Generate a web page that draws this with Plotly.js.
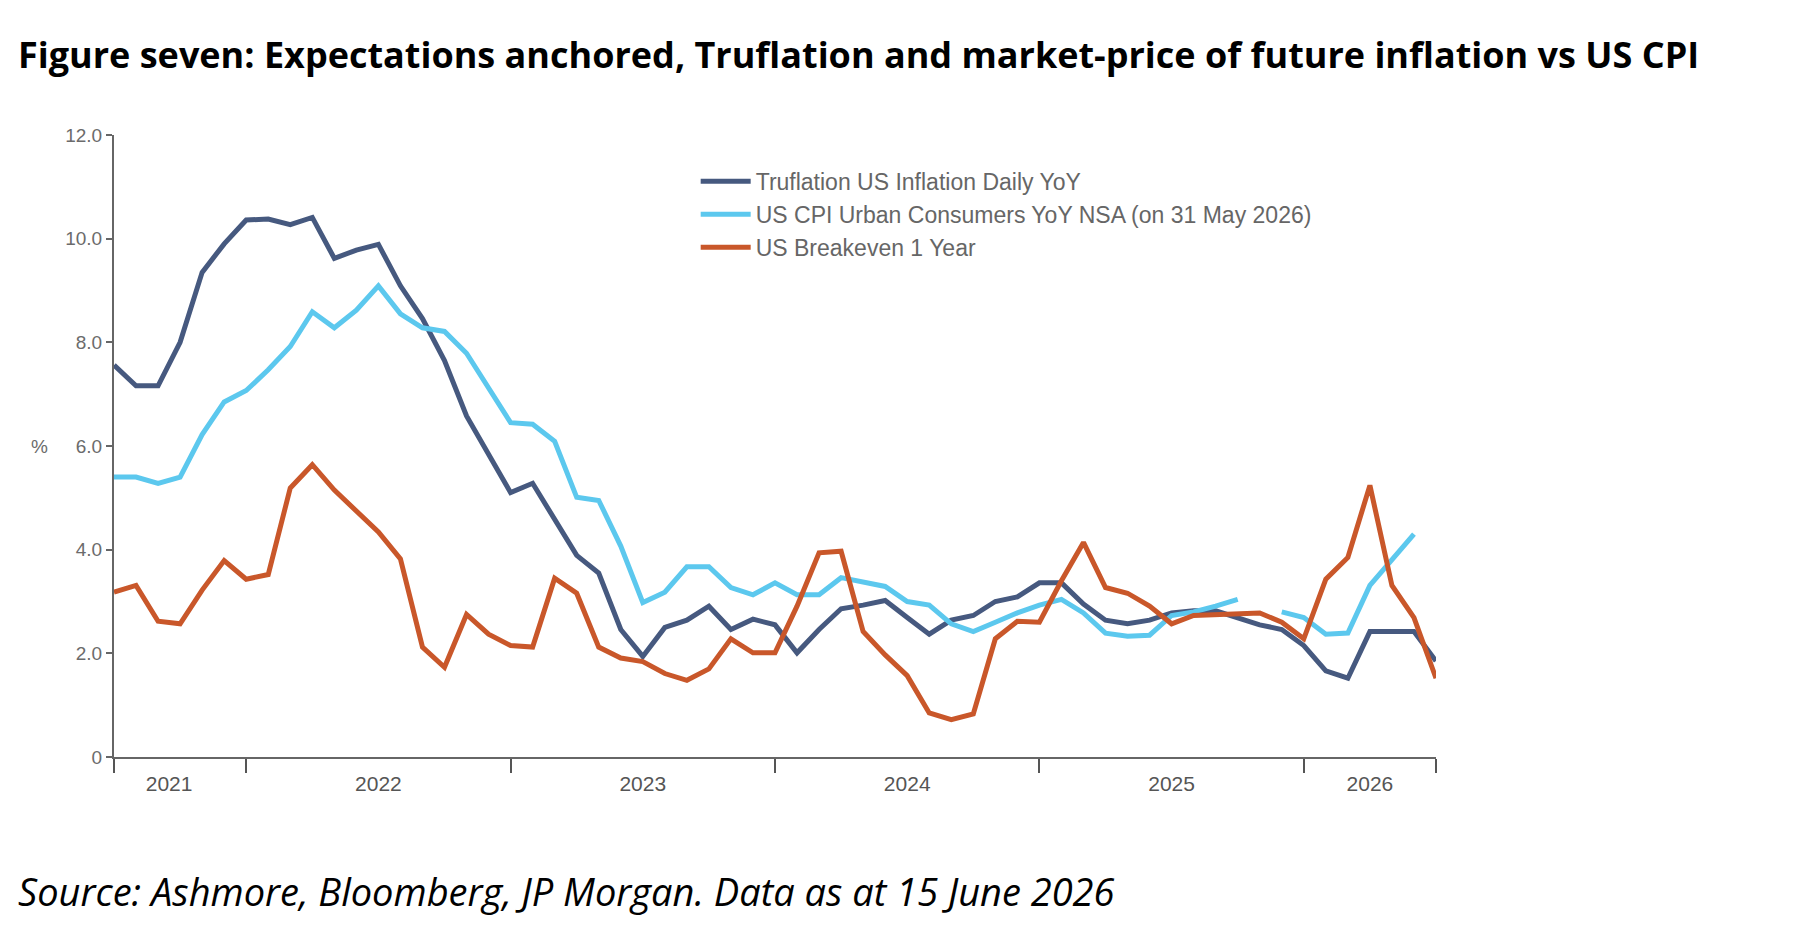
<!DOCTYPE html>
<html>
<head>
<meta charset="utf-8">
<script src="https://cdn.plot.ly/plotly-3.0.1.min.js"></script>
<style>
  html, body { margin: 0; padding: 0; background: #fff; }
  #chart { width: 1818px; height: 929px; }
</style>
</head>
<body>
<div id="chart"></div>
<script>
// Months from Jul 2021 (0) to Jul 2026 (60)
var monthIndex = [];
for (var i = 0; i <= 60; i++) monthIndex.push(i);

var truflation = [7.56, 7.16, 7.16, 8.0, 9.35, 9.9, 10.36, 10.38, 10.27, 10.41,
  9.62, 9.78, 9.89, 9.09, 8.46, 7.65, 6.58, 5.86, 5.1, 5.28,
  4.57, 3.89, 3.55, 2.46, 1.94, 2.5, 2.64, 2.91, 2.46, 2.66,
  2.55, 2.01, 2.46, 2.86, 2.93, 3.02, 2.69, 2.37, 2.64, 2.73,
  3.0, 3.09, 3.36, 3.36, 2.95, 2.64, 2.57, 2.64, 2.78, 2.82,
  2.82, 2.69, 2.55, 2.46, 2.15, 1.66, 1.52, 2.42, 2.42, 2.42, 1.85];

var usCpi = [5.4, 5.4, 5.28, 5.4, 6.22, 6.85, 7.07, 7.47, 7.92, 8.59,
  8.28, 8.62, 9.09, 8.55, 8.28, 8.21, 7.79, 7.12, 6.45, 6.42,
  6.09, 5.01, 4.95, 4.07, 2.98, 3.18, 3.67, 3.67, 3.27, 3.13,
  3.36, 3.13, 3.13, 3.46, 3.38, 3.29, 3.0, 2.93, 2.57, 2.42,
  2.6, 2.78, 2.93, 3.04, 2.78, 2.39, 2.33, 2.35, 2.73, 2.8,
  2.91, 3.04, null, 2.8, 2.69, 2.37, 2.39, 3.31, 3.8, 4.3, null];

var breakeven = [3.18, 3.31, 2.62, 2.57, 3.22, 3.79, 3.43, 3.52, 5.19, 5.64,
  5.15, 4.74, 4.34, 3.82, 2.12, 1.73, 2.75, 2.37, 2.15, 2.12,
  3.45, 3.16, 2.12, 1.91, 1.84, 1.61, 1.48, 1.7, 2.28, 2.01,
  2.01, 2.91, 3.94, 3.97, 2.42, 1.97, 1.57, 0.85, 0.72, 0.83,
  2.28, 2.62, 2.6, 3.4, 4.14, 3.27, 3.16, 2.91, 2.57, 2.73,
  2.75, 2.75, 2.78, 2.6, 2.28, 3.43, 3.85, 5.24, 3.31, 2.69, 1.52];

var yearBoundaries = [0, 6, 18, 30, 42, 54, 60];
var yearCentres = [2.5, 12, 24, 36, 48, 57];
var yearLabels = ['2021', '2022', '2023', '2024', '2025', '2026'];
var yTickVals = [0, 2, 4, 6, 8, 10, 12];
var yTickText = ['0', '2.0', '4.0', '6.0', '8.0', '10.0', '12.0'];

var narrow = 'Liberation Sans Narrow, Liberation Sans, Arial, sans-serif';
var tickFont = { family: narrow, size: 19, color: '#6b6b6b' };

function serie(nom, y, couleur) {
  return {
    x: monthIndex, y: y, name: nom, type: 'scatter', mode: 'lines',
    line: { color: couleur, width: 5 }, connectgaps: false
  };
}

var traces = [
  serie('Truflation US Inflation Daily YoY', truflation, '#46597f'),
  serie('US CPI Urban Consumers YoY NSA (on 31 May 2026)', usCpi, '#5cc8ee'),
  serie('US Breakeven 1 Year', breakeven, '#c9572a')
];
// trace invisible pour porter l'axe des années
traces.push({ x: [0], y: [null], xaxis: 'x2', showlegend: false, hoverinfo: 'skip', type: 'scatter', mode: 'lines' });

var layout = {
  width: 1818, height: 929,
  paper_bgcolor: '#fff', plot_bgcolor: '#fff',
  margin: { l: 114, r: 382, t: 135, b: 172 },
  showlegend: true,
  legend: {
    x: 0.44, y: 0.96, xanchor: 'left', yanchor: 'top',
    font: { family: narrow, size: 23, color: '#666' },
    bgcolor: 'rgba(0,0,0,0)', tracegroupgap: 6, itemwidth: 50
  },
  xaxis: {
    range: [0, 60], tickmode: 'array', tickvals: yearBoundaries,
    ticktext: yearBoundaries.map(function () { return ''; }),
    ticks: 'outside', ticklen: 14, tickwidth: 2, tickcolor: '#555',
    showline: true, linecolor: '#666', linewidth: 2,
    showgrid: false, zeroline: false
  },
  xaxis2: {
    overlaying: 'x', side: 'bottom', range: [0, 60],
    tickmode: 'array', tickvals: yearCentres, ticktext: yearLabels,
    ticks: '', showline: false, showgrid: false, zeroline: false,
    ticklabelstandoff: 12,
    tickfont: { family: narrow, size: 21, color: '#555' }
  },
  yaxis: {
    range: [0, 12], tickmode: 'array', tickvals: yTickVals, ticktext: yTickText,
    ticks: 'outside', ticklen: 6, tickwidth: 2, tickcolor: '#666',
    showline: true, linecolor: '#666', linewidth: 2,
    showgrid: false, zeroline: false, tickfont: tickFont
  },
  annotations: [
    { xref: 'paper', yref: 'paper', x: -0.064, y: 0.5, xanchor: 'left', showarrow: false,
      text: '%', font: tickFont },
    { xref: 'paper', yref: 'paper', x: -0.074, y: 1.13, xanchor: 'left', yanchor: 'middle', showarrow: false,
      text: '<b>Figure seven: Expectations anchored, Truflation and market-price of future inflation vs US CPI</b>',
      font: { family: 'Open Sans, DejaVu Sans, sans-serif', size: 36, color: '#000' } },
    { xref: 'paper', yref: 'paper', x: -0.074, y: -0.215, xanchor: 'left', yanchor: 'middle', showarrow: false,
      text: '<i>Source: Ashmore, Bloomberg, JP Morgan. Data as at 15 June 2026</i>',
      font: { family: 'Open Sans, DejaVu Sans, sans-serif', size: 38, color: '#000' } }
  ]
};

Plotly.newPlot('chart', traces, layout, { displayModeBar: false, staticPlot: true });
</script>
</body>
</html>
